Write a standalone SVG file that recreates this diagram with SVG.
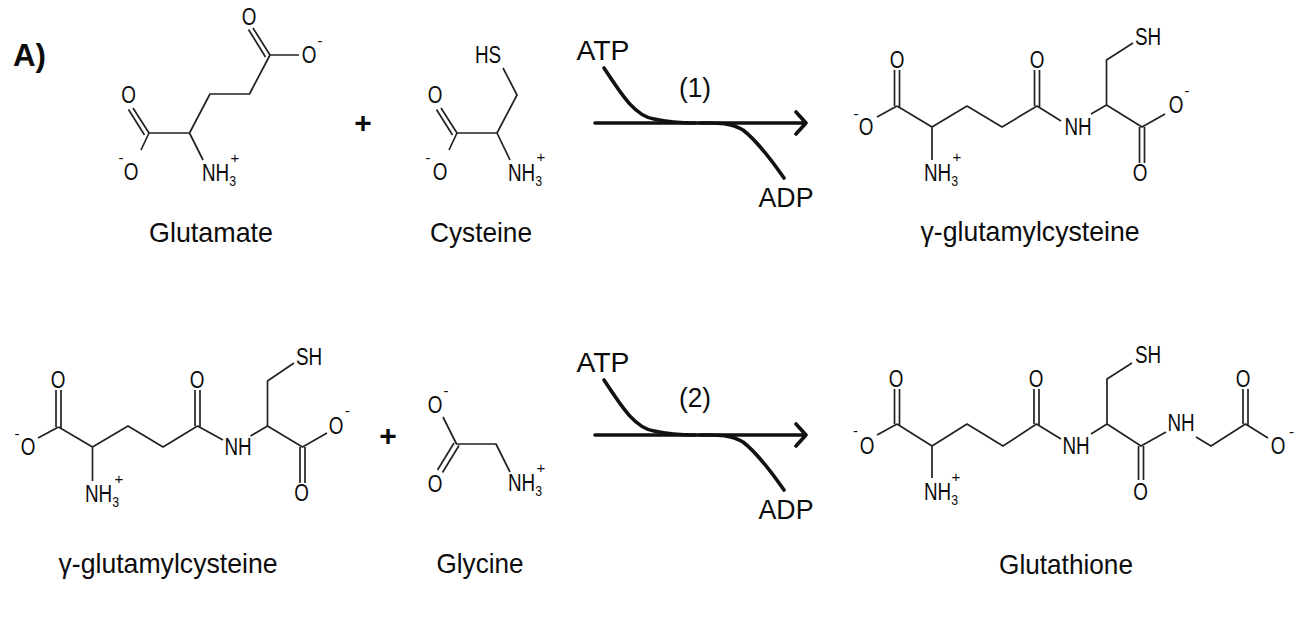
<svg xmlns="http://www.w3.org/2000/svg" width="1301" height="621" viewBox="0 0 1301 621">
<style>
text{font-family:"Liberation Sans",Arial,sans-serif;fill:#0c0c0c}
.a{font-size:23px;text-anchor:middle;transform-box:fill-box;transform-origin:center;transform:scaleX(.82)}
.s{font-size:15px}
.c{font-size:15px;text-anchor:middle}
.l{font-size:28px;text-anchor:middle}
.b{fill:none;stroke:#222;stroke-width:1.7;stroke-linejoin:round}
.r{fill:none;stroke:#111;stroke-width:3.6;stroke-linecap:round;stroke-linejoin:round}
.p{font-size:30px;font-weight:bold;text-anchor:middle}
</style>
<rect width="1301" height="621" fill="#fff"/>
<text id="panel-label" x="13" y="66" font-size="31" font-weight="bold" textLength="33" lengthAdjust="spacingAndGlyphs">A)</text>

<g id="glutamate">
<path class="b" d="M141 150L149 133H189.500L210 94H249.500L270 55L253 28M265.500 57L248.500 29.500M270 55H299M149 133L133 108M144.500 135L128.500 109.500M189.500 133L203 160"/>
<text class="a" x="249" y="25">O</text><text class="a" x="309" y="63">O</text><text class="c" x="320" y="46">-</text>
<text class="a" x="128.500" y="103">O</text><text class="a" x="131" y="180">O</text><text class="c" x="121" y="163">-</text>
<text class="a" x="219" y="181">NH<tspan class="s" dy="5">3</tspan></text><text class="c" x="235" y="163">+</text>
<text class="l" x="211" y="242" textLength="124" lengthAdjust="spacingAndGlyphs">Glutamate</text>
</g>

<text id="plus-1" class="p" x="363" y="133">+</text>

<g id="cysteine">
<path class="b" d="M449 150L457 133H497L517 95L503 68M457 133L441 108M452.500 135L436.500 109.500M497 133L510 160"/>
<text class="a" x="488" y="63">HS</text>
<text class="a" x="435" y="103">O</text><text class="a" x="440" y="180">O</text><text class="c" x="428" y="163">-</text>
<text class="a" x="525" y="181">NH<tspan class="s" dy="5">3</tspan></text><text class="c" x="541" y="162">+</text>
<text class="l" x="481" y="242" textLength="102" lengthAdjust="spacingAndGlyphs">Cysteine</text>
</g>

<g id="connectors">
<g id="arrow-1">
<path class="r" d="M595 123H806M796 112L806 123L796 134"/>
<path class="r" d="M604 68C620 92 634 116 654 119C668 122 680 123 695 123"/>
<path class="r" d="M700 123C715 123 730 122 743 130C756 140 770 158 784 178"/>
</g>
<g id="arrow-2">
<path class="r" d="M595 435H806M796 424L806 435L796 446"/>
<path class="r" d="M604 380C620 404 634 428 654 431C668 434 680 435 695 435"/>
<path class="r" d="M700 435C715 435 730 434 743 442C756 452 770 470 784 490"/>
</g>
</g>

<g id="reaction-1-labels">
<text class="l" x="603" y="60" textLength="53" lengthAdjust="spacingAndGlyphs">ATP</text>
<text class="l" x="695" y="97" textLength="32" lengthAdjust="spacingAndGlyphs">(1)</text>
<text class="l" x="786" y="207" textLength="55" lengthAdjust="spacingAndGlyphs">ADP</text>
</g>
<g id="reaction-2-labels">
<text class="l" x="603" y="372" textLength="53" lengthAdjust="spacingAndGlyphs">ATP</text>
<text class="l" x="695" y="407" textLength="32" lengthAdjust="spacingAndGlyphs">(2)</text>
<text class="l" x="786" y="519" textLength="55" lengthAdjust="spacingAndGlyphs">ADP</text>
</g>

<g id="gamma-glutamylcysteine-product">
<path class="b" d="M877 117L897 106M894.500 106V70M899.500 108V70M897 106L932 127L967 106L1002 127L1037 106L1061 121M1034.500 106V70M1039.500 108V70M932 127V160M1091 114L1106.500 105L1142 127L1165 114M1106.500 105V60L1133 43M1139.500 127V163M1144.500 127V163"/>
<text class="a" x="866" y="135">O</text><text class="c" x="856" y="119">-</text>
<text class="a" x="897" y="68">O</text><text class="a" x="1037" y="68">O</text>
<text class="a" x="1078" y="135">NH</text><text class="a" x="1148" y="45">SH</text>
<text class="a" x="1176" y="113">O</text><text class="c" x="1187" y="96">-</text>
<text class="a" x="1140" y="181">O</text>
<text class="a" x="941" y="181">NH<tspan class="s" dy="5">3</tspan></text><text class="c" x="957" y="162">+</text>
<text class="l" x="1030" y="241" textLength="219" lengthAdjust="spacingAndGlyphs">γ-glutamylcysteine</text>
</g>

<g id="gamma-glutamylcysteine-substrate">
<path class="b" d="M38 438L58.500 427M56 427V390M61 429V390M58.500 427L92.500 447L128 426L163 447L197.500 426L223 440M195 426V390M200 428V390M92.500 447V481M250.500 436L267.500 426L302.500 447L327 433M267.500 426V381L294 363M300 447V483M305 447V483"/>
<text class="a" x="28" y="455">O</text><text class="c" x="17" y="439">-</text>
<text class="a" x="58" y="388">O</text><text class="a" x="197" y="388">O</text>
<text class="a" x="238" y="455">NH</text><text class="a" x="309" y="365">SH</text>
<text class="a" x="336" y="434">O</text><text class="c" x="347.500" y="416">-</text>
<text class="a" x="301.500" y="501">O</text>
<text class="a" x="102" y="502">NH<tspan class="s" dy="5">3</tspan></text><text class="c" x="119" y="484">+</text>
<text class="l" x="168" y="573" textLength="219" lengthAdjust="spacingAndGlyphs">γ-glutamylcysteine</text>
</g>

<text id="plus-2" class="p" x="388" y="446">+</text>

<g id="glycine">
<path class="b" d="M443 417L456.500 444H496L510 472M454 443L437.500 470M459 445.500L442.500 472.500"/>
<text class="a" x="435" y="413">O</text><text class="c" x="446" y="396">-</text>
<text class="a" x="435" y="492">O</text>
<text class="a" x="525" y="491">NH<tspan class="s" dy="5">3</tspan></text><text class="c" x="541" y="473">+</text>
<text class="l" x="480" y="573" textLength="87" lengthAdjust="spacingAndGlyphs">Glycine</text>
</g>

<g id="glutathione">
<path class="b" d="M877 435L897 424M894.500 424V389M899.500 426V389M897 424L932 446L967 424L1003 446L1036.500 424L1061 439M1034 424V389M1039 426V389M932 446V478M1091 434L1107 424L1141 446L1166 432M1107 424V379L1132 363M1138.500 446V480M1143.500 446V480M1196 437L1211 446L1245.500 424L1268 438M1243 424V389M1248 426V389"/>
<text class="a" x="867" y="454">O</text><text class="c" x="855.500" y="436">-</text>
<text class="a" x="896" y="387">O</text><text class="a" x="1036" y="387">O</text>
<text class="a" x="1076" y="454">NH</text><text class="a" x="1148" y="363">SH</text>
<text class="a" x="1181" y="431">NH</text>
<text class="a" x="1243" y="387">O</text>
<text class="a" x="1140.500" y="500">O</text>
<text class="a" x="1278" y="454">O</text><text class="c" x="1291.500" y="437">-</text>
<text class="a" x="941" y="500">NH<tspan class="s" dy="5">3</tspan></text><text class="c" x="956" y="482">+</text>
<text class="l" x="1066" y="574" textLength="134" lengthAdjust="spacingAndGlyphs">Glutathione</text>
</g>
</svg>
